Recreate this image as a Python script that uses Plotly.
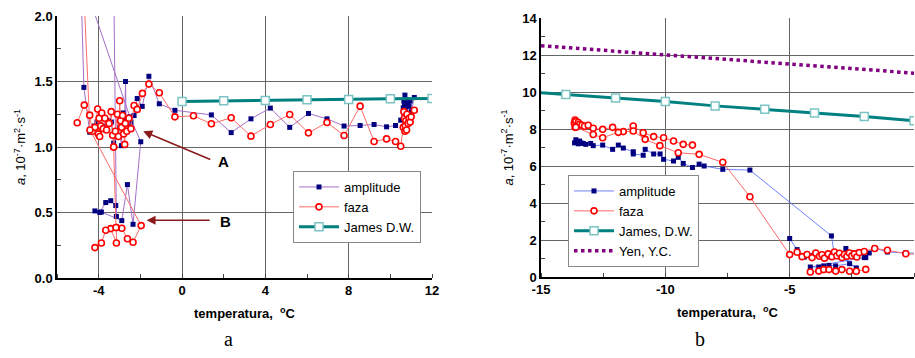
import plotly.graph_objects as go

N = None
# ---------- Panel a ----------
amp_a_x = [-4.95, -4.71, -4.43, -4.22, -4.08, -3.95, -3.80, -3.66, -3.52, -3.39, -3.28, -3.12, -3.00, -2.91,
           -2.83, -2.75, -2.71, -2.68, -2.55, -2.45, -2.30, -2.15, -1.91, -1.59, -1.09, -0.34, 1.41, 2.36, 3.31,
           4.24, 5.17, 6.07, 6.96, 7.78, 8.55, 9.22, 9.82, 10.25, 10.50, 10.62, 10.65, 10.70, 10.68, 10.75, 10.80,
           10.72, 10.85, 10.90, 10.95, 11.00, 11.15, N,
           -4.80, -2.50, -1.98, -2.35, -2.62, -2.89, -3.87, -4.18, -3.95, -3.66, -3.42, -3.18, -3.15, -3.33]
amp_a_y = [2.80, 1.455, 1.113, 1.16, 1.19, 1.17, 1.14, 1.16, 1.20, 1.19, 1.03, 1.09, 1.15, 1.01,
           1.26, 1.22, 1.50, 1.17, 1.18, 1.19, 1.24, 1.37, 1.31, 1.54, 1.33, 1.28, 1.245, 1.11, 1.215,
           1.297, 1.15, 1.256, 1.215, 1.16, 1.164, 1.172, 1.154, 1.164, 1.205, 1.30, 1.35, 1.396, 1.32, 1.33, 1.36,
           1.28, 1.34, 1.31, 1.35, 1.27, 1.378, N,
           2.30, 1.23, 1.04, 0.41, 0.713, 0.438, 0.504, 0.512, 0.50, 0.576, 0.59, 0.553, 0.47, 3.00]

faza_a_x = [-5.03, -4.69, -4.43, -4.30, -4.18, -4.05, -4.02, -3.98, -3.95, -3.90, -3.85, -3.78, -3.70, -3.62,
            -3.50, -3.40, -3.33, -3.28, -3.20, -3.10, -3.05, -2.99, -2.95, -2.90, -2.85, -2.80, -2.75, -2.72,
            -2.65, -2.55, -2.45, -2.30, -2.15, -1.90, -1.59, -1.09, -0.34, 0.55, 1.41, 2.36, 3.31, 4.24, 5.17,
            6.07, 6.96, 7.78, 8.55, 9.22, 9.82, 10.25, 10.50, 10.62, 10.65, 10.70, 10.68, 10.75, 10.72, 10.80,
            10.78, 10.85, 10.90, 10.95, 11.00, 11.15, N,
            -4.80, -4.42, -1.96, -2.35, -2.62, -2.89, -3.15, -3.15, -3.42, -3.66, -3.87, -4.18, N,
            -3.28, -3.17]
faza_a_y = [1.185, 1.32, 1.243, 1.12, 1.15, 1.29, 1.10, 1.22, 1.08, 1.16, 1.26, 1.14, 1.22, 1.13,
            1.18, 1.27, 1.09, 1.00, 1.12, 1.25, 1.08, 1.353, 1.20, 1.15, 1.24, 1.10, 1.02, 1.18,
            1.12, 1.22, 1.14, 1.317, 1.287, 1.409, 1.48, 1.414, 1.23, 1.238, 1.177, 1.223, 1.083, 1.172, 1.248,
            1.108, 1.187, 1.088, 1.312, 1.042, 1.062, 1.042, 1.006, 1.15, 1.27, 1.12, 1.22, 1.20, 1.16, 1.25,
            1.13, 1.18, 1.22, 1.19, 1.23, 1.28, N,
            2.50, 1.13, 0.40, 0.273, 0.30, 0.38, 0.385, 0.267, 0.377, 0.364, 0.267, 0.232, N,
            1.00, 0.385]

james_a_x = [0, 2, 4, 6, 8, 10, 12]
james_a_y = [1.348, 1.353, 1.355, 1.360, 1.363, 1.368, 1.370]

xticks_a = [-4, 0, 4, 8, 12]
xticklabels_a = ["-4", "0", "4", "8", "12"]

# ---------- Panel b ----------
amp_b_x = [-13.65, -13.60, -13.55, -13.50, -13.45, -13.40, -13.30, -13.20, -13.00, -12.90, -12.52, -12.12,
           -11.89, -11.69, -11.29, -11.29, -10.89, -10.81, -10.47, -10.21, -10.07, -9.67, -9.48, -9.28, -8.91,
           -8.64, -8.44, -7.69, -6.60, -3.32, -3.20, -2.90, -2.74, -2.60, -2.40, -2.20, -1.94, -1.80, -1.58,
           -1.07, -0.33, 0.50, N,
           -5.00, -4.70, -4.41, -4.10, -3.80, -3.50, -3.20, -3.00, -2.32, -2.59, -3.15, -3.42, -3.63, -3.83,
           -4.17, -2.00]
amp_b_y = [7.25, 7.42, 7.30, 7.20, 7.35, 7.25, 7.22, 7.17, 7.22, 7.10, 7.13, 6.90,
           7.13, 6.97, 6.77, 6.65, 6.58, 6.90, 6.65, 6.65, 6.36, 6.27, 6.47, 6.14, 5.92,
           6.10, 6.00, 5.82, 5.78, 2.22, 1.20, 1.15, 1.54, 1.20, 1.30, 1.35, 1.05, 1.30, 1.57,
           1.35, 1.30, 1.28, N,
           2.08, 1.48, 1.08, 1.15, 1.20, 1.10, 1.25, 1.15, 0.49, 0.72, 0.60, 0.63, 0.60, 0.54,
           0.54, 1.05]

faza_b_x = [-13.66, -13.63, -13.60, -13.55, -13.63, -13.50, -13.45, -13.35, -13.25, -13.10, -12.90, -12.52,
            -12.12, -11.69, -11.29, -10.89, -10.47, -10.07, -9.67, -9.28, -8.91, N,
            -13.60, -12.90, -12.52, -11.89, -11.29, -10.81, -10.22, -9.48, -8.64, -7.69, -6.60, -5.00,
            -4.70, -4.50, -4.30, -4.10, -3.95, -3.80, -3.70, -3.60, -3.45, -3.30, -3.20, -3.10, -3.00, -2.90,
            -2.80, -2.70, -2.60, -2.50, -2.40, -2.30, -2.20, -2.00, -1.58, -1.07, -0.33, 0.50, N,
            -4.17, -3.83, -3.63, -3.42, -3.15, -2.90, -2.59, -2.32, -1.94]
faza_b_y = [8.31, 8.49, 8.40, 8.20, 8.09, 8.35, 8.25, 8.20, 8.15, 8.20, 8.04, 7.98,
            8.09, 7.86, 8.16, 7.80, 7.59, 7.53, 7.35, 7.17, 7.13, N,
            8.10, 7.70, 7.53, 7.82, 7.89, 7.44, 7.10, 6.72, 6.63, 6.20, 4.34, 1.21,
            1.34, 1.10, 1.22, 1.05, 1.30, 1.12, 1.20, 1.02, 1.25, 1.10, 1.35, 1.15, 1.28, 1.05,
            1.22, 1.12, 1.30, 1.15, 1.25, 1.08, 1.32, 1.38, 1.54, 1.45, 1.26, 1.20, N,
            0.27, 0.32, 0.40, 0.40, 0.32, 0.40, 0.31, 0.31, 0.41]

james_b_x = [-16, -14, -12, -10, -8, -6, -4, -2, 0]
james_b_y = [10.05, 9.86, 9.68, 9.48, 9.25, 9.07, 8.87, 8.67, 8.45]

yen_b_x = [-15, 0]
yen_b_y = [12.5, 11.02]

xticks_b = [-15, -10, -5, 0]
xticklabels_b = ["-15", "-10", "-5", "0"]

NAVY = "#000080"
RED = "#ff0000"
TEAL = "#008080"

fig = go.Figure()

amp_marker = dict(symbol="square", size=5, color=NAVY)
faza_marker = dict(symbol="circle", size=6, color="white", line=dict(color=RED, width=1.6))
james_marker = dict(symbol="square", size=8, color="white", line=dict(color="#7cc4c4", width=1.5))

# panel a traces
fig.add_trace(go.Scatter(x=amp_a_x, y=amp_a_y, mode="lines+markers", name="amplitude",
                         line=dict(color="#a56fc8", width=1), connectgaps=False, marker=amp_marker,
                         xaxis="x", yaxis="y", legend="legend"))
fig.add_trace(go.Scatter(x=faza_a_x, y=faza_a_y, mode="lines+markers", name="faza",
                         line=dict(color="#ff6a6a", width=1), connectgaps=False, marker=faza_marker,
                         xaxis="x", yaxis="y", legend="legend"))
fig.add_trace(go.Scatter(x=james_a_x, y=james_a_y, mode="lines+markers", name="James D.W.",
                         line=dict(color=TEAL, width=3), marker=james_marker,
                         xaxis="x", yaxis="y", legend="legend"))

# panel b traces
fig.add_trace(go.Scatter(x=amp_b_x, y=amp_b_y, mode="lines+markers", name="amplitude",
                         line=dict(color="#4a62ff", width=0.8), connectgaps=False, marker=amp_marker,
                         xaxis="x2", yaxis="y2", legend="legend2"))
fig.add_trace(go.Scatter(x=faza_b_x, y=faza_b_y, mode="lines+markers", name="faza",
                         line=dict(color="#ff6a6a", width=1), connectgaps=False, marker=faza_marker,
                         xaxis="x2", yaxis="y2", legend="legend2"))
fig.add_trace(go.Scatter(x=james_b_x, y=james_b_y, mode="lines+markers", name="James, D.W.",
                         line=dict(color=TEAL, width=3), marker=james_marker,
                         xaxis="x2", yaxis="y2", legend="legend2"))
fig.add_trace(go.Scatter(x=yen_b_x, y=yen_b_y, mode="lines", name="Yen, Y.C.",
                         line=dict(color="#800080", width=3.5, dash="dot"),
                         xaxis="x2", yaxis="y2", legend="legend2"))

FONT = "Liberation Sans, Arial, sans-serif"
tickfont = dict(family=FONT, size=13, color="black", weight="bold")
common_axis = dict(showgrid=True, gridcolor="#666666", gridwidth=1, zeroline=False,
                   showline=True, linecolor="black", linewidth=1.5, ticks="",
                   tickfont=tickfont, automargin=False)
minor_common = dict(ticks="inside", ticklen=4, tickcolor="#444444", showgrid=False)

ytitle = "<i>a</i>, 10<sup>-7</sup>·m<sup>2</sup>·s<sup>-1</sup>"
xtitle = "<b>temperatura,  <sup>o</sup>C</b>"

fig.update_layout(
    width=915, height=358,
    paper_bgcolor="white", plot_bgcolor="white",
    margin=dict(l=0, r=0, t=0, b=0),
    font=dict(family=FONT, size=13, color="black"),
    xaxis=dict(domain=[57/915, 432/915], range=[-6, 12], tickvals=xticks_a, ticktext=xticklabels_a,
               minor=dict(dtick=2, tick0=0, **minor_common), anchor="y",
               title=dict(text=xtitle, font=dict(size=13), standoff=12), **common_axis),
    yaxis=dict(domain=[1-278/358, 1-16/358], range=[0, 2], dtick=0.5, tickformat=".1f",
               minor=dict(dtick=0.25, **minor_common), anchor="x",
               title=dict(text=ytitle, font=dict(size=13), standoff=6), **common_axis),
    xaxis2=dict(domain=[541/915, 914/915], range=[-15, 0], tickvals=xticks_b, ticktext=xticklabels_b,
                minor=dict(dtick=2.5, **minor_common), anchor="y2",
                title=dict(text=xtitle, font=dict(size=13), standoff=12), **common_axis),
    yaxis2=dict(domain=[1-277/358, 1-18/358], range=[0, 14], dtick=2,
                minor=dict(dtick=1, **minor_common), anchor="x2",
                title=dict(text=ytitle, font=dict(size=13), standoff=6), **common_axis),
    legend=dict(x=293/915, y=1-207/358, xanchor="left", yanchor="middle",
                bgcolor="white", bordercolor="#888888", borderwidth=1,
                font=dict(size=13), tracegroupgap=0, itemwidth=40),
    legend2=dict(x=568/915, y=1-221/358, xanchor="left", yanchor="middle",
                 bgcolor="white", bordercolor="#888888", borderwidth=1,
                 font=dict(size=13), tracegroupgap=0, itemwidth=40),
    showlegend=True,
)

ARROW = "#8b1a1a"
fig.add_annotation(x=-1.86, y=1.12, ax=1.43, ay=0.90, axref="x", ayref="y", xref="x", yref="y",
                   text="", showarrow=True, arrowhead=2, arrowsize=1.2, arrowwidth=1.5, arrowcolor=ARROW)
fig.add_annotation(x=-1.70, y=0.44, ax=1.40, ay=0.44, axref="x", ayref="y", xref="x", yref="y",
                   text="", showarrow=True, arrowhead=2, arrowsize=1.2, arrowwidth=1.5, arrowcolor=ARROW)
fig.add_annotation(x=1.99, y=0.887, xref="x", yref="y", text="<b>A</b>", showarrow=False,
                   font=dict(size=15, family=FONT))
fig.add_annotation(x=2.07, y=0.428, xref="x", yref="y", text="<b>B</b>", showarrow=False,
                   font=dict(size=15, family=FONT))

fig.add_annotation(x=222/915, y=1-352/358, xref="paper", yref="paper", text="a", showarrow=False,
                   font=dict(size=20, family="Liberation Serif, Times New Roman, serif"))
fig.add_annotation(x=707/915, y=1-352/358, xref="paper", yref="paper", text="b", showarrow=False,
                   font=dict(size=20, family="Liberation Serif, Times New Roman, serif"))

fig.write_html("out.html", config={"displayModeBar": False},
               post_script="document.body.style.margin='0';document.body.style.overflow='hidden';")
